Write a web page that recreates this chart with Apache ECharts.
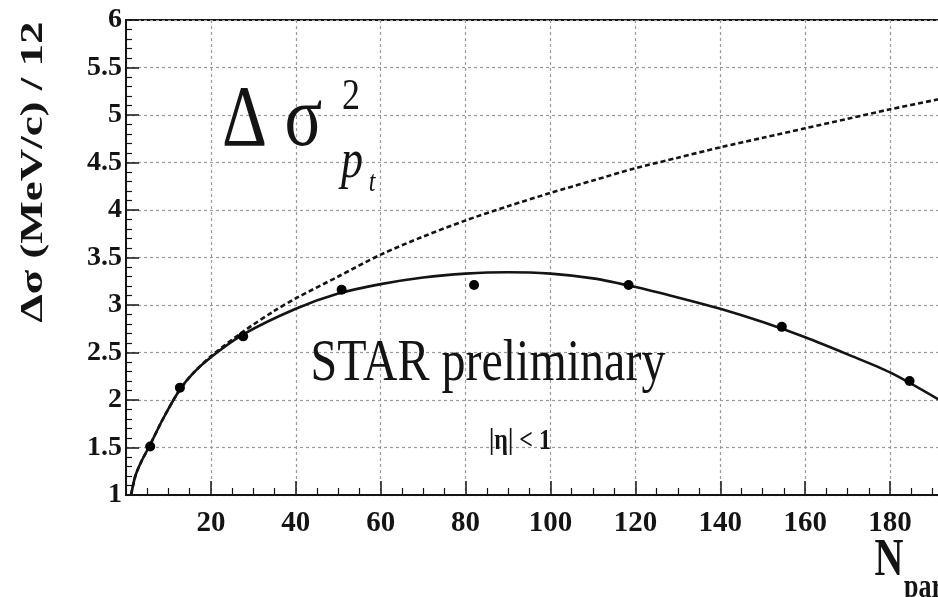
<!DOCTYPE html>
<html>
<head>
<meta charset="utf-8">
<script src="https://cdn.jsdelivr.net/npm/echarts@6/dist/echarts.min.js"></script>
<style>
  html, body { margin: 0; padding: 0; background: #ffffff; overflow: hidden; }
  #chart { width: 960px; height: 597px; }
</style>
</head>
<body>
<div id="chart"></div>
<script>
// Measured points: N_part vs Δσ (MeV/c) / 12
const measuredNpart = [5.7, 12.7, 27.6, 50.8, 82.0, 118.4, 154.5, 184.6];
const measuredSigma = [1.51, 2.13, 2.67, 3.16, 3.21, 3.21, 2.77, 2.20];

// Solid fit curve through the measured points
const fitNpart = [1.2, 2.2, 3.7, 5.7, 8.7, 12.7, 16, 20, 27.6, 40, 50, 60, 70, 80, 90, 100, 110, 120, 130, 140, 150, 160, 170, 180, 192];
const fitSigma = [1.0, 1.2, 1.36, 1.53, 1.8, 2.11, 2.29, 2.45, 2.69, 2.96, 3.12, 3.22, 3.29, 3.33, 3.345, 3.33, 3.28, 3.19, 3.08, 2.96, 2.82, 2.66, 2.48, 2.29, 1.99];

// Dashed curve (scaling without the high-N_part turnover)
const scaledNpart = [1.2, 2.2, 3.7, 5.7, 8.7, 12.7, 16, 20, 27.6, 35, 40, 50, 60, 70, 80, 90, 100, 110, 120, 130, 140, 150, 160, 170, 180, 192];
const scaledSigma = [1.0, 1.2, 1.36, 1.53, 1.8, 2.11, 2.29, 2.46, 2.72, 2.94, 3.07, 3.30, 3.53, 3.72, 3.89, 4.04, 4.18, 4.31, 4.44, 4.55, 4.66, 4.76, 4.86, 4.96, 5.06, 5.17];

// Axis settings
const xMin = 0, xMax = 192, xStep = 20;
const yMin = 1, yMax = 6, yStep = 0.5;

const zip = (xs, ys) => xs.map((x, i) => [x, ys[i]]);

const SERIF = "'Liberation Serif', 'DejaVu Serif', serif";
const INK = '#141414';
const GRID = '#9a9a9a';

const chart = echarts.init(document.getElementById('chart'), null, { renderer: 'canvas' });

function txt(x, y, text, font, opts) {
  opts = opts || {};
  return {
    type: 'text',
    x: x, y: y,
    scaleX: opts.sx || 1,
    scaleY: opts.sy || 1,
    rotation: opts.rot || 0,
    z: 20,
    style: {
      text: text,
      font: font,
      fill: INK,
      align: opts.align || 'center',
      verticalAlign: 'middle',
      textAlign: opts.align || 'center',
      textVerticalAlign: 'middle'
    }
  };
}

chart.setOption({
  animation: false,
  backgroundColor: '#ffffff',
  grid: {
    left: 126, top: 20, width: 815, height: 475,
    show: true, borderColor: INK, borderWidth: 2, backgroundColor: 'transparent'
  },
  xAxis: {
    type: 'value', min: xMin, max: xMax, interval: xStep,
    axisLine: { show: true, onZero: false, lineStyle: { color: INK, width: 2 } },
    axisTick: { show: true, inside: true, length: 14, lineStyle: { color: INK, width: 1.5 } },
    minorTick: { show: true, splitNumber: 4, length: 7, lineStyle: { color: INK, width: 1.2 } },
    splitLine: { show: true, lineStyle: { color: GRID, width: 1.2, type: [3, 3] } },
    axisLabel: {
      margin: 14, showMinLabel: false, showMaxLabel: false,
      fontFamily: SERIF, fontWeight: 'bold', fontSize: 29, color: INK
    }
  },
  yAxis: {
    type: 'value', min: yMin, max: yMax, interval: yStep,
    axisLine: { show: true, onZero: false, lineStyle: { color: INK, width: 2 } },
    axisTick: { show: true, inside: true, length: 13, lineStyle: { color: INK, width: 1.5 } },
    minorTick: { show: true, splitNumber: 5, length: 6, lineStyle: { color: INK, width: 1.2 } },
    splitLine: { show: true, lineStyle: { color: GRID, width: 1.2, type: [3, 3] } },
    axisLabel: {
      margin: 4,
      fontFamily: SERIF, fontWeight: 'bold', fontSize: 28, color: INK
    }
  },
  series: [
    {
      name: 'scaled', type: 'line', data: zip(scaledNpart, scaledSigma),
      smooth: 0.3, showSymbol: false, clip: true, z: 3,
      lineStyle: { color: INK, width: 2.6, type: [5, 3] }
    },
    {
      name: 'fit', type: 'line', data: zip(fitNpart, fitSigma),
      smooth: 0.3, showSymbol: false, clip: true, z: 4,
      lineStyle: { color: INK, width: 2.6 }
    },
    {
      name: 'data', type: 'scatter', data: zip(measuredNpart, measuredSigma),
      symbol: 'circle', symbolSize: 10, z: 5,
      itemStyle: { color: '#000000', opacity: 1 }
    }
  ],
  graphic: [
    // Δσ²_pt label
    txt(272, 122, 'Δ σ', '70px ' + SERIF, { sy: 1.25 }),
    txt(351, 97, '2', '36px ' + SERIF, { sy: 1.25 }),
    txt(352, 163, 'p', 'italic 44px ' + SERIF, { sy: 1.25 }),
    txt(372, 183, 't', 'italic 24px ' + SERIF, { sy: 1.25 }),
    // annotations
    txt(488, 364, 'STAR preliminary', '48px ' + SERIF, { sy: 1.25 }),
    txt(520, 442, '|η| < 1', 'bold 24px ' + SERIF, { sy: 1.2 }),
    // axis titles
    txt(34, 172, 'Δσ (MeV/c) / 12', 'bold 31px ' + SERIF, { sx: 1.45, rot: Math.PI / 2 }),
    txt(889, 562, 'N', 'bold 40px ' + SERIF, { sy: 1.3 }),
    txt(904, 588, 'part', 'bold 26px ' + SERIF, { sy: 1.3, align: 'left' })
  ]
});
</script>
</body>
</html>
